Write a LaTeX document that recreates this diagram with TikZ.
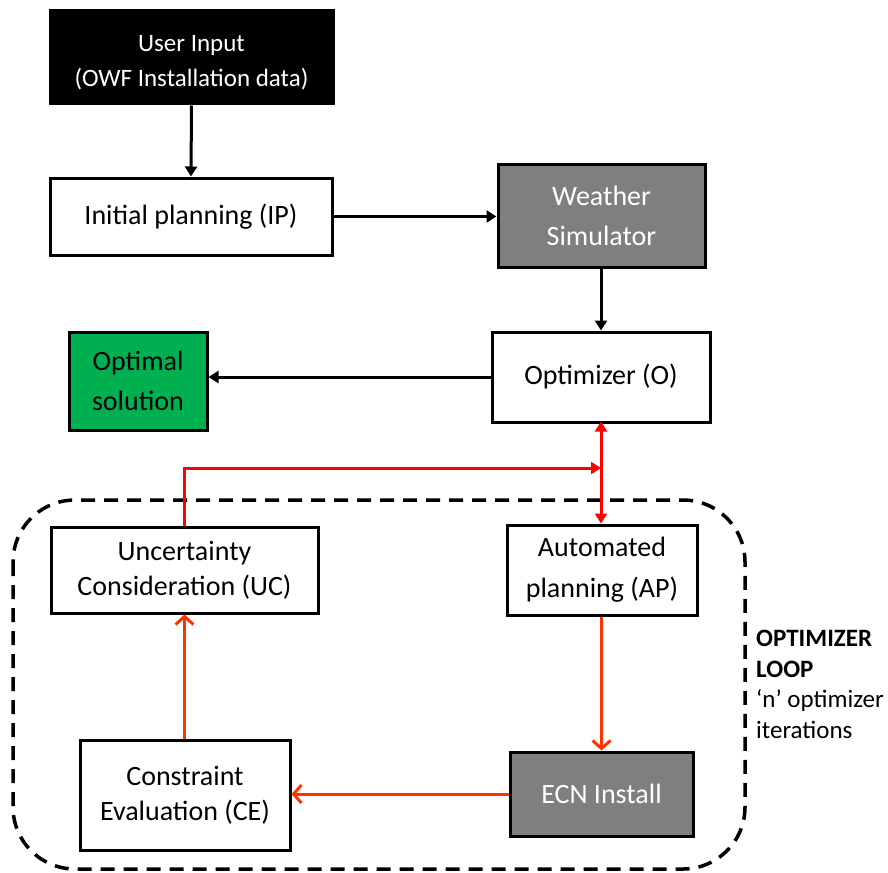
\documentclass[tikz,border=0pt]{standalone}
\usepackage{fontspec}
\setmainfont{Carlito}
\usetikzlibrary{arrows.meta}
\definecolor{boxgray}{HTML}{7F7F7F}
\definecolor{optgreen}{HTML}{00B050}
\definecolor{loopred}{HTML}{FF0000}
\definecolor{looporange}{HTML}{FF3300}
\begin{document}
\begin{tikzpicture}[x=1pt,y=-1pt,
  blk/.style={draw=black,line width=3pt,align=center,inner sep=0pt,
    font=\fontsize{28}{35}\selectfont},
  blkarrow/.style={line width=3pt,-{Triangle[length=10pt,width=12pt]}},
  redone/.style={line width=3pt,draw=loopred,-{Triangle[length=10pt,width=12pt]}},
  orarrow/.style={line width=3pt,draw=looporange,-{Straight Barb[length=8pt,width=18pt]}}]
\useasboundingbox (0,0) rectangle (888,872);
% dashed loop frame
\draw[line width=3.5pt,dash pattern=on 14pt off 9pt,rounded corners=62pt]
  (13,500) rectangle (745,869);
% nodes
\node[blk,fill=black,text=white,minimum width=283pt,minimum height=93pt,font=\fontsize{25}{35}\selectfont] (ui) at (191.5,57.5) {\rule{0pt}{26pt}User Input\\(OWF Installation data)};
\node[blk,fill=white,minimum width=282pt,minimum height=77pt] (ip) at (191,216.5) {Initial planning (IP)};
\node[blk,fill=boxgray,text=white,minimum width=207pt,minimum height=103pt,font=\fontsize{28}{40}\selectfont] (ws) at (601.5,215.5) {Weather\\Simulator};
\node[blk,fill=white,minimum width=218pt,minimum height=90pt] (opt) at (601,377) {Optimizer (O)};
\node[blk,fill=optgreen,minimum width=138pt,minimum height=98pt,font=\fontsize{28}{40}\selectfont] (os) at (138,381) {Optimal\\solution};
\node[blk,fill=white,minimum width=267pt,minimum height=86pt] (uc) at (184.5,570) {Uncertainty\\Consideration (UC)};
\node[blk,fill=white,minimum width=190pt,minimum height=90pt,font=\fontsize{28}{41}\selectfont] (ap) at (602,570) {Automated\\planning (AP)};
\node[blk,fill=boxgray,text=white,minimum width=183pt,minimum height=84pt] (ecn) at (601.5,794) {ECN Install};
\node[blk,fill=white,minimum width=210pt,minimum height=110pt] (ce) at (185,795) {Constraint\\Evaluation (CE)};
\node[anchor=north west,align=left,inner sep=0pt,font=\fontsize{25}{30.5}\selectfont] (lbl) at (756,630)
  {\textbf{OPTIMIZER}\\\textbf{LOOP}\\‘n’ optimizer\\iterations};
% connectors
\coordinate (jn) at (601,468);
\draw[blkarrow] (ui.south) -- (ip.north);
\draw[blkarrow] (ip.east) -- (ip.east -| ws.west);
\draw[blkarrow] (ws.south -| opt.north) -- (opt.north);
\draw[blkarrow] (opt.west) -- (opt.west -| os.east);
\draw[redone] (uc.north) |- (jn);
\draw[line width=3pt,draw=loopred,{Triangle[length=10pt,width=12pt]}-{Triangle[length=10pt,width=12pt]}] ([yshift=2pt]opt.south) -- (ap.north -| opt.south);
\draw[orarrow] (ap.south -| ecn.north) -- (ecn.north);
\draw[orarrow] (ecn.west) -- (ecn.west -| ce.east);
\draw[orarrow] (ce.north -| uc.south) -- (uc.south);
\end{tikzpicture}
\end{document}
